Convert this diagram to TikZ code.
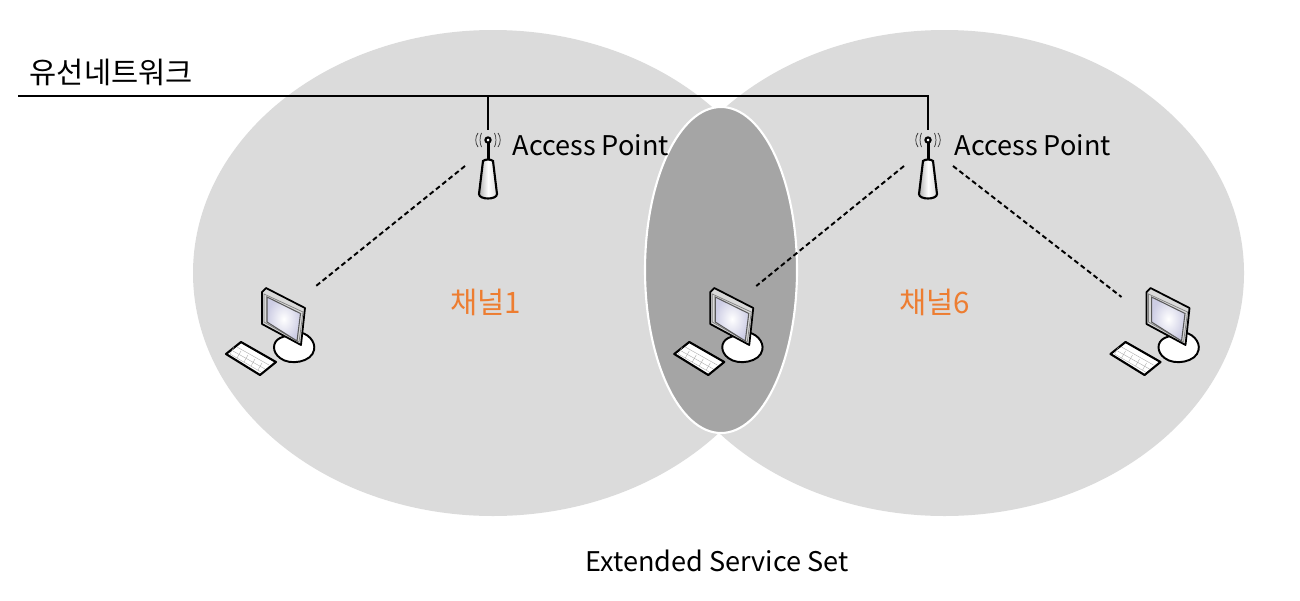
\documentclass[tikz,border=0pt]{standalone}
\usepackage{fontspec}
\setmainfont{Noto Sans CJK KR}
\usetikzlibrary{arrows.meta,calc}
\definecolor{cellgray}{HTML}{DBDBDB}
\definecolor{overlapgray}{HTML}{A5A5A5}
\definecolor{channelorange}{HTML}{ED7D31}
\tikzset{
  cell/.style={fill=cellgray},
  overlap/.style={fill=overlapgray,draw=white,line width=0.6pt},
  wire/.style={line width=0.5pt,black},
  radiolink/.style={line width=0.55pt,black,dash pattern=on 1.4pt off 0.9pt},
  label/.style={font=\fontsize{7.7pt}{9pt}\selectfont,inner sep=0pt,text=black},
  hangul/.style={font=\fontsize{8.4pt}{10pt}\selectfont,inner sep=0pt,text=black},
  pics/accesspoint/.style={code={
    \draw[line width=0.6pt,left color=gray!60,right color=gray!30,middle color=white] (-5,21) -- (-9,54)
      .. controls (-9,60) and (9,60) .. (9,54) -- (5,21)
      .. controls (3,19) and (-3,19) .. (-5,21) -- cycle;
    \draw[line width=0.85pt] (0,0) -- (0,20);
    \draw[line width=0.6pt,fill=white] (0,0) circle (2.6);
    \foreach \r in {6.5,10}{
      \draw[line width=0.2pt,black!80] (-\r,-7) .. controls (-\r*1.3,-3) and (-\r*1.3,3) .. (-\r,7);
      \draw[line width=0.2pt,black!80] (\r,-7) .. controls (\r*1.3,-3) and (\r*1.3,3) .. (\r,7);
    }
  }},
  pics/computer/.style={code={
    % base
    \draw[line width=0.55pt,fill=white] (296,332) .. controls (308,332) and (316,342) .. (314,350)
      .. controls (312,362) and (290,366) .. (280,358) .. controls (272,352) and (272,342) .. (280,338) -- cycle;
    % monitor
    \draw[line width=0.5pt,fill=white!70!gray,line join=round] (262,292) -- (266,288) -- (305,308)
      -- (301,345) -- (262,324) -- cycle;
    \draw[line width=0.2pt,gray] (264,294) -- (303,312) -- (299,342) -- (264,322) -- cycle;
    \shade[inner color=white,outer color=blue!30!gray!30] (267,297) -- (300.5,313.5) -- (297,341)
      -- (267,322) -- cycle;
    \draw[line width=0.3pt,gray!70!black] (267,297) -- (300.5,313.5) -- (297,341) -- (267,322) -- cycle;
    % keyboard
    \draw[line width=0.6pt,fill=white,line join=round] (241,342) -- (276,362) -- (260,375)
      -- (226,354) -- cycle;
    \draw[line width=0.1pt,gray!70] (237,347) -- (269,365) (233,351) -- (265,369) (230,354) -- (261,372);
    \draw[line width=0.1pt,gray!70] (234,347) -- (230,354) (241,351) -- (237,358) (248,355) -- (244,362)
      (255,359) -- (251,366) (262,363) -- (258,370);
  }}
}
\begin{document}
\begin{tikzpicture}[x=0.01cm,y=-0.01cm]
\useasboundingbox (0,0) rectangle (1300,600);
% Service areas
\fill[cell] (493,273) ellipse (300 and 243);
\fill[cell] (944.5,273) ellipse (299.5 and 243);
\draw[overlap] (721,270) ellipse (76 and 163);

% Wired network
\coordinate (wireend) at (18,96);
\coordinate (tap1) at (488,96);
\coordinate (tap2) at (928,96);
\coordinate (ap1) at (488,140);
\coordinate (ap2) at (928,140);
\draw[wire] (wireend) -- (tap2) -- ($(ap2)+(0,-10)$);
\draw[wire] (tap1) -- ($(ap1)+(0,-10)$);
\node[hangul,anchor=west] (wiredlabel) at (29,72) {유선네트워크};

% Access points
\pic at (ap1) {accesspoint};
\pic at (ap2) {accesspoint};
\node[label,anchor=west] (aplabel1) at (512,145) {Access Point};
\node[label,anchor=west] (aplabel2) at (954,145) {Access Point};

% Computers
\begin{scope}
\pic {computer};
\coordinate (pc1) at (316,286);
\end{scope}
\begin{scope}[xshift=4.48cm]
\pic {computer};
\coordinate (pc2) at (308,286);
\end{scope}
\begin{scope}[xshift=8.84cm]
\pic {computer};
\coordinate (pc3) at (237,297);
\end{scope}

% Radio links
\coordinate (rf1) at (465,166);
\coordinate (rf2) at (904,166);
\coordinate (rf3) at (953,166);
\draw[radiolink] (rf1) -- (pc1);
\draw[radiolink] (rf2) -- (pc2);
\draw[radiolink] (rf3) -- (pc3);

% Channels
\node[hangul,text=channelorange] (channel1) at (486,302) {채널1};
\node[hangul,text=channelorange] (channel6) at (935,302) {채널6};
\node[label] (esslabel) at (717,561) {Extended Service Set};
\end{tikzpicture}
\end{document}
